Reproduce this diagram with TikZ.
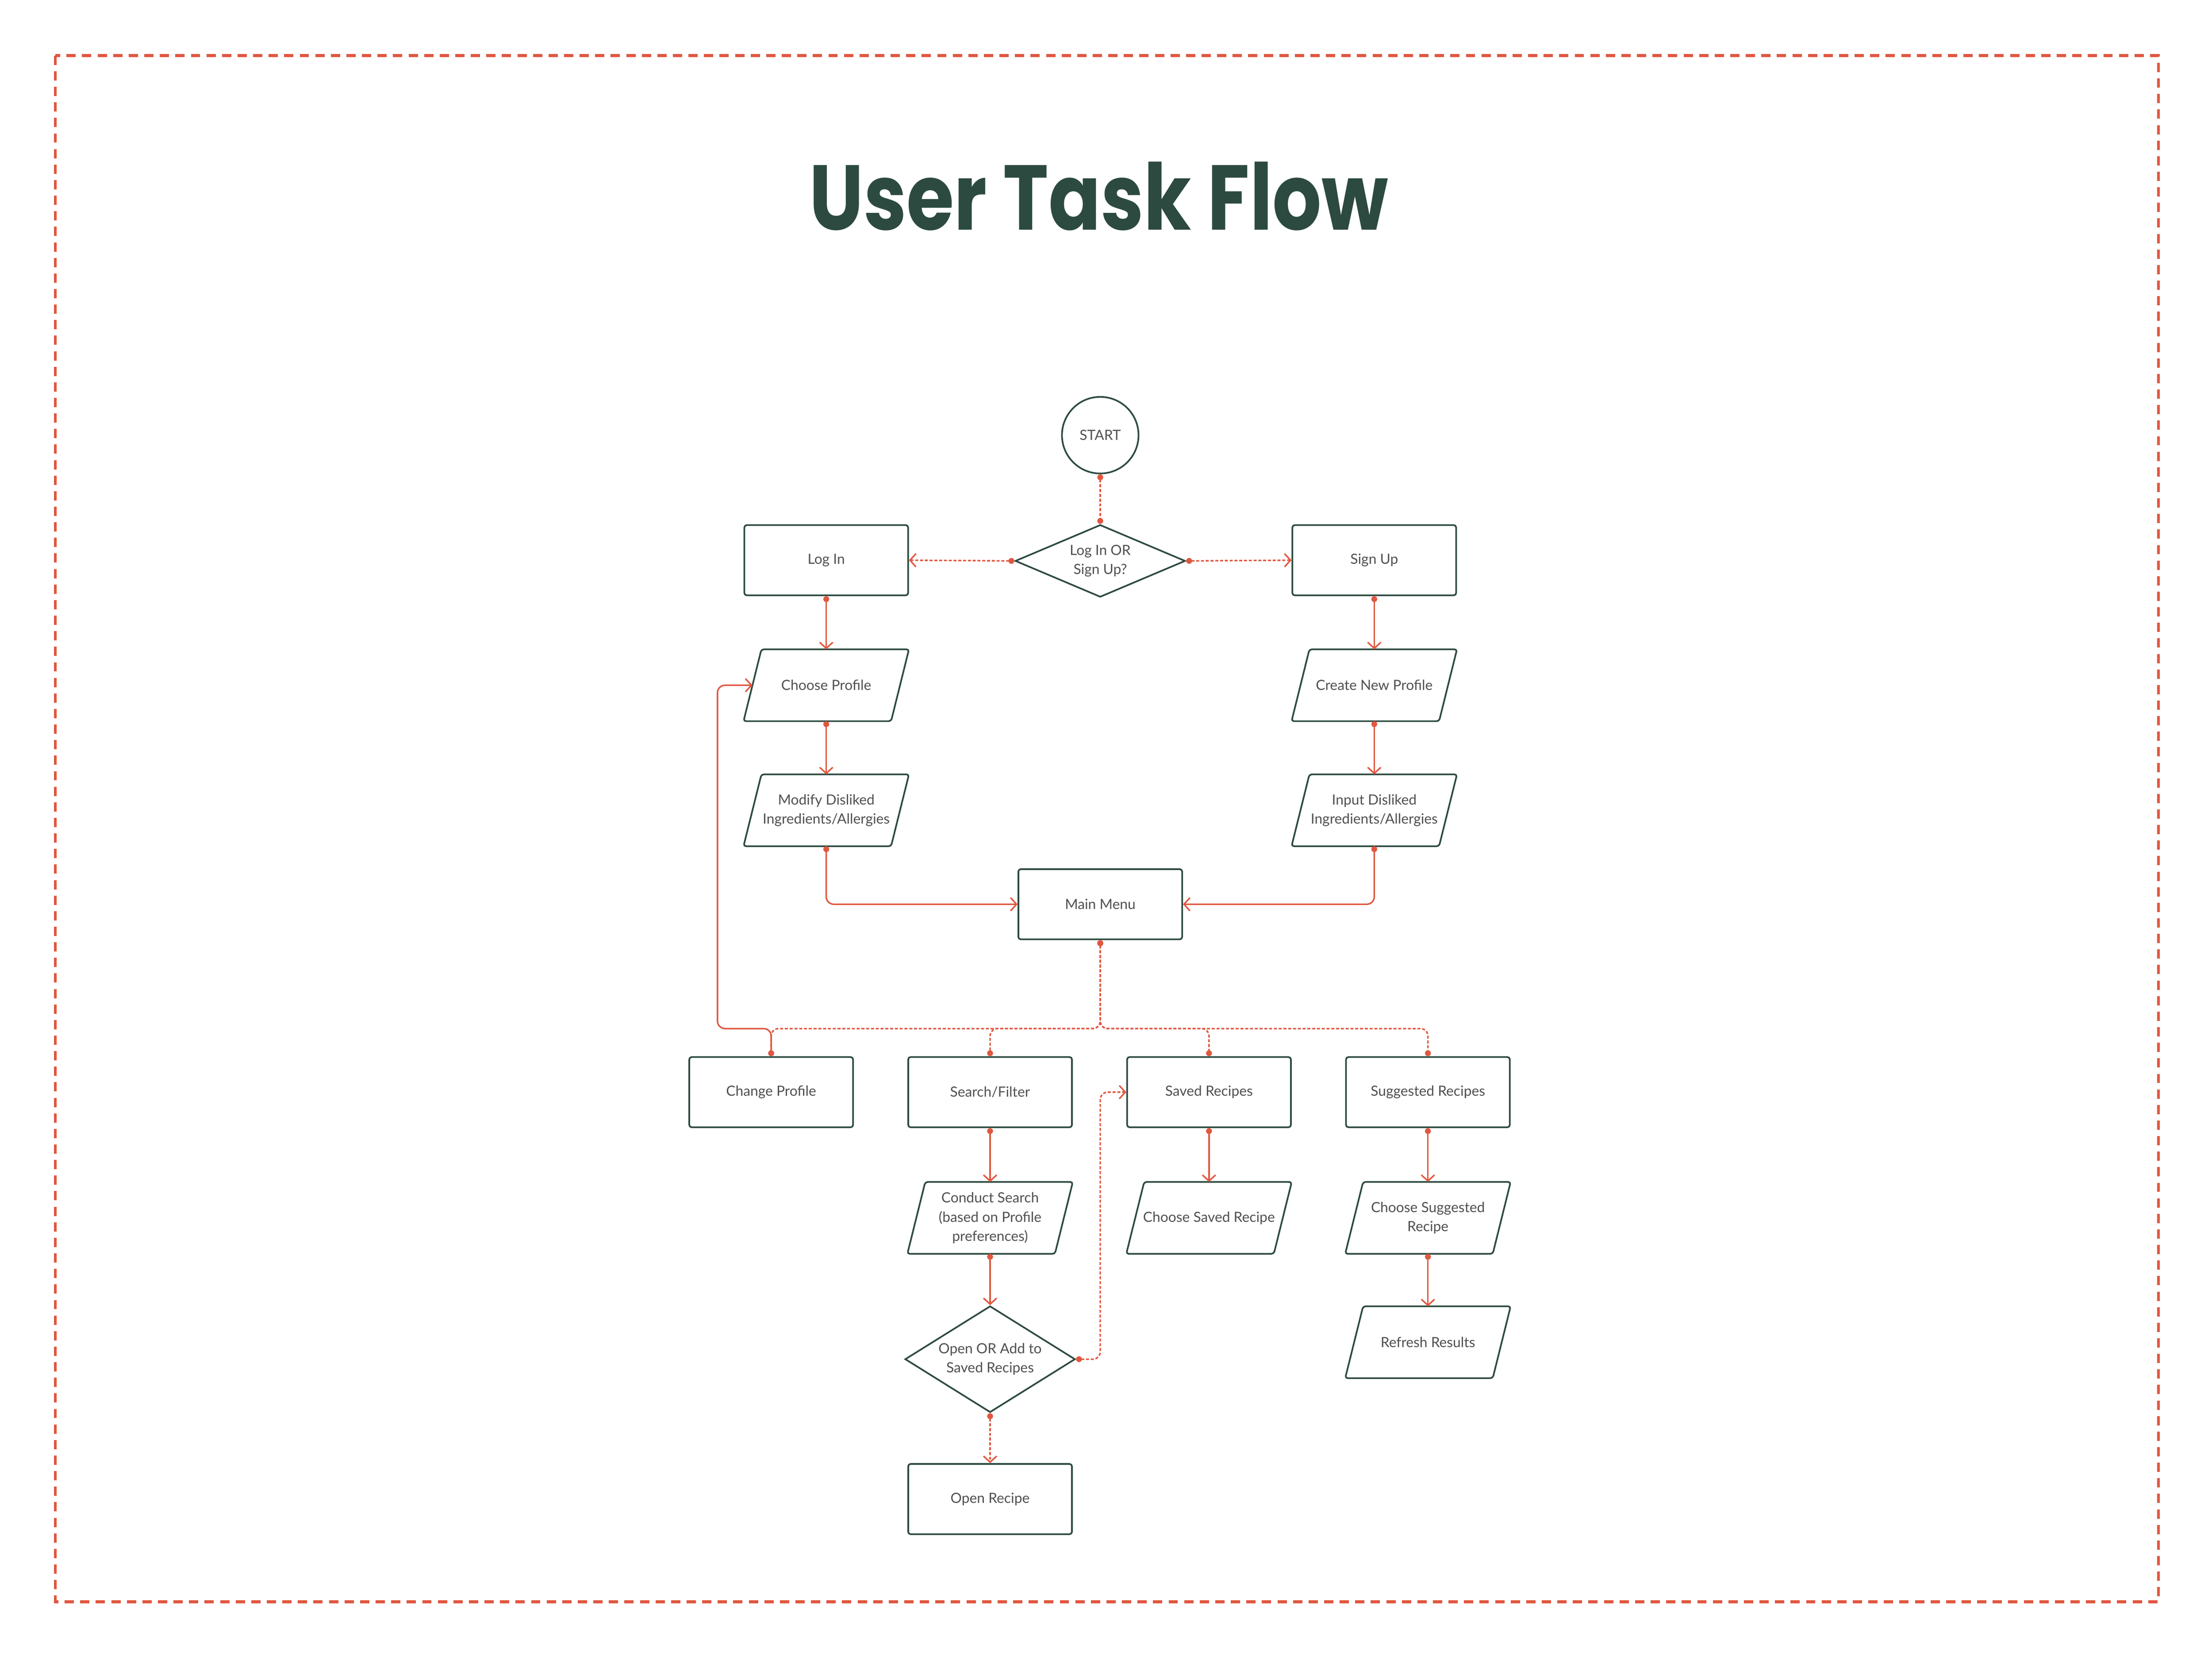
\documentclass[tikz,border=0pt]{standalone}
\usepackage{graphicx}
\usepackage{fontspec}
\setmainfont{Lato}
\newfontfamily\titlefont{Poppins}
\usetikzlibrary{positioning,shapes.geometric,arrows.meta}
\definecolor{lineclr}{HTML}{E0573F}
\definecolor{boxclr}{HTML}{2C4A40}
\definecolor{textclr}{HTML}{505050}
\tikzset{
  base/.style={draw=boxclr, line width=0.55pt, fill=white, text=textclr,
    font=\fontsize{4.7}{6.4}\selectfont, align=center, inner sep=0pt},
  taskbox/.style={base, rectangle, rounded corners=0.8pt,
    minimum width=1.925cm, minimum height=0.825cm},
  iobox/.style={base, draw=none, fill=none, rectangle,
    minimum width=1.925cm, minimum height=0.825cm},
  ioline/.style={draw=boxclr, line width=0.55pt, rounded corners=0.8pt},
  choice/.style={base, diamond, minimum width=2cm, minimum height=0.85cm, aspect=2.35},
  startnode/.style={base, circle, minimum size=0.9cm},
  link/.style={draw=lineclr, line width=0.5pt, rounded corners=2.5pt,
    {Circle[length=2pt]}-{Straight Barb[length=2pt,width=4.4pt]}},
  dotlink/.style={link, dash pattern=on 1pt off 0.6pt},
  dotjoin/.style={dotlink, {Circle[length=2pt]}-{Circle[length=2pt]}},
}
\begin{document}
\begin{tikzpicture}[x=0.0166cm, y=-0.0166cm]
\useasboundingbox (0cm,0cm) rectangle (26cm,-19.5cm);
\draw[lineclr, line width=1pt, dash pattern=on 3.1pt off 2.1pt] (0.65cm,-0.654cm) rectangle (25.37cm,-18.82cm);
\node[text=boxclr, inner sep=0pt] (title) at (778,139) {\resizebox{6.8cm}{0.8cm}{\titlefont\bfseries User Task Flow}};

\node[startnode] (start) at (779,308) {START};
\node[choice] (ask) at (779,397) {Log In OR\\Sign Up?};
\node[taskbox] (login) at (585,396.5) {Log In};
\node[taskbox] (signup) at (973,396.5) {Sign Up};
\node[iobox] (choose) at (585,485) {Choose Profile};
\node[iobox] (create) at (973,485) {Create New Profile};
\node[iobox] (modify) at (585,573.5) {Modify Disliked\\Ingredients/Allergies};
\node[iobox] (input) at (973,573.5) {Input Disliked\\Ingredients/Allergies};
\node[taskbox] (menu) at (779,640) {Main Menu};

\node[taskbox] (change) at (546,773) {Change Profile};
\node[taskbox] (search) at (701,773) {Search/Filter};
\node[taskbox] (saved) at (856,773) {Saved Recipes};
\node[taskbox] (suggest) at (1011,773) {Suggested Recipes};
\node[iobox] (conduct) at (701,862) {Conduct Search\\(based on Profile\\preferences)};
\node[iobox] (pick) at (856,862) {Choose Saved Recipe};
\node[iobox] (picksug) at (1011,862) {Choose Suggested\\Recipe};
\node[iobox] (refresh) at (1011,950) {Refresh Results};
\node[choice, minimum height=1.25cm, aspect=1.6] (open) at (701,962) {Open OR Add to\\Saved Recipes};
\node[taskbox] (recipe) at (701,1061) {Open Recipe};

% slanted input boxes
\foreach \n in {choose,create,modify,input,conduct,pick,picksug,refresh}
  \draw[ioline] (\n.south west) -- ([xshift=0.21cm]\n.north west) -- (\n.north east)
    -- ([xshift=-0.21cm]\n.south east) -- cycle;

\coordinate (bus) at (779,728);
\coordinate (loop) at (508,728);
\coordinate (jump) at (779,773);

\draw[dotjoin] (start.south) -- (ask.north);
\draw[dotlink] (ask.west) -- (login.east);
\draw[dotlink] (ask.east) -- (signup.west);
\draw[link] (login.south) -- (choose.north);
\draw[link] (signup.south) -- (create.north);
\draw[link] (choose.south) -- (modify.north);
\draw[link] (create.south) -- (input.north);
\draw[link] (modify.south) |- (menu.west);
\draw[link] (input.south) |- (menu.east);
\foreach \b in {change,search,saved,suggest}
  \draw[dotjoin] (menu.south) -- (bus) -| (\b.north);
\draw[link] (change.north) |- (loop) |- ([xshift=0.105cm]choose.west);
\draw[link] (search.south) -- (conduct.north);
\draw[link] (conduct.south) -- (open.north);
\draw[dotlink] (open.south) -- (recipe.north);
\draw[dotlink] (open.east) -| (jump) -- (saved.west);
\draw[link] (saved.south) -- (pick.north);
\draw[link] (suggest.south) -- (picksug.north);
\draw[link] (picksug.south) -- (refresh.north);
\end{tikzpicture}
\end{document}
